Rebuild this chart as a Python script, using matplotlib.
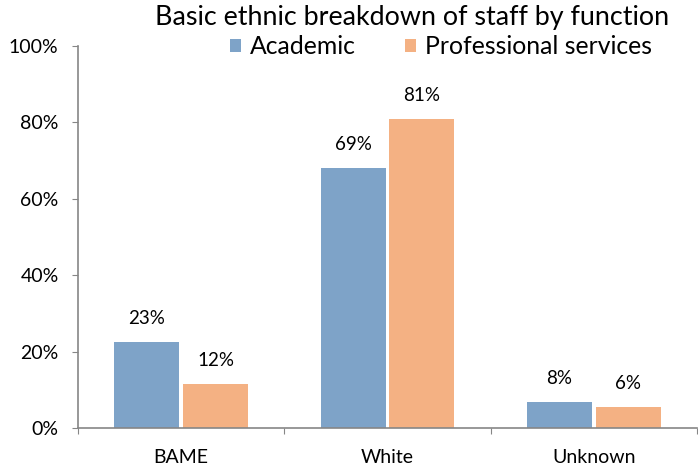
import numpy as np
import matplotlib
matplotlib.use("Agg")
import matplotlib.pyplot as plt
from matplotlib.ticker import PercentFormatter

categories = ["BAME", "White", "Unknown"]
academic = [22.6, 68.1, 6.9]
professional = [11.5, 80.8, 5.4]
academic_labels = ["23%", "69%", "8%"]
professional_labels = ["12%", "81%", "6%"]

plt.rcParams['font.family'] = ['Lato', 'DejaVu Sans']

blue = "#7EA3C8"
orange = "#F4B183"
spine_col = "#868686"

fig = plt.figure(figsize=(6.98, 4.70), dpi=100)
ax = fig.add_axes([78/698, 42/470, 619/698, 382/470])

x = np.arange(len(categories))
w = 0.315
off = 0.1665
b1 = ax.bar(x - off, academic, w, color=blue, label="Academic")
b2 = ax.bar(x + off, professional, w, color=orange, label="Professional services")

for bars, labs in [(b1, academic_labels), (b2, professional_labels)]:
    for b, lab in zip(bars, labs):
        ax.annotate(lab, (b.get_x() + b.get_width()/2, b.get_height()),
                    xytext=(0, 17), textcoords="offset points",
                    ha="center", va="center", fontsize=13.5)

ax.set_xlim(-0.5, 2.5)
ax.set_ylim(0, 100)
ax.set_yticks([0, 20, 40, 60, 80, 100])
ax.yaxis.set_major_formatter(PercentFormatter(decimals=0))
ax.set_xticks([-0.5, 0.5, 1.5, 2.5])
ax.set_xticklabels([])
ax.set_xticks(x, minor=True)
ax.set_xticklabels(categories, minor=True)
ax.tick_params(axis="x", which="minor", length=0, labelsize=14, pad=15)
ax.tick_params(axis="x", which="major", length=4.5, direction="out", color=spine_col)
ax.tick_params(axis="y", length=4.5, direction="out", color=spine_col, labelsize=14, pad=9.5)

for s in ["top", "right"]:
    ax.spines[s].set_visible(False)
for s in ["left", "bottom"]:
    ax.spines[s].set_color(spine_col)
    ax.spines[s].set_linewidth(1.2)

fig.text(0.590, 0.962, "Basic ethnic breakdown of staff by function",
         ha="center", va="center", fontsize=19.4)
fig.legend(handles=[b1, b2], loc="center", bbox_to_anchor=(0.632, 0.901),
           ncol=2, frameon=False, fontsize=17.8, handlelength=0.45, handleheight=0.45,
           handletextpad=0.35, columnspacing=2.0)

fig.savefig("out.png", dpi=100)
